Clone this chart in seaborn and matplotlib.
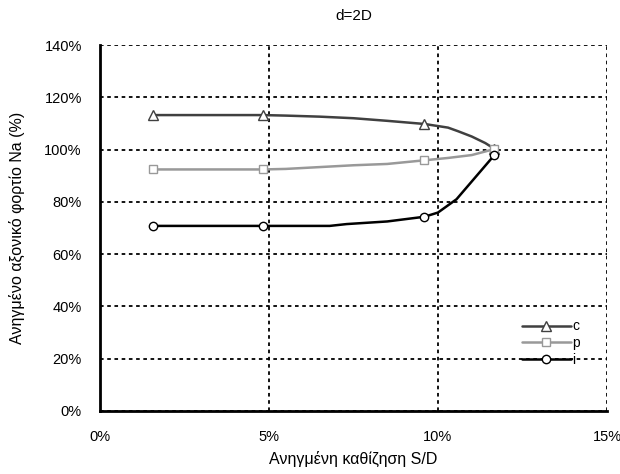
import numpy as np
import pandas as pd
import seaborn as sns
import matplotlib.pyplot as plt
from matplotlib.ticker import PercentFormatter

# data (S/D %, Na %)
x_c = [1.57, 4.82, 5.5, 6.5, 7.5, 8.5, 9.6, 10.3, 10.6, 11.0, 11.4, 11.67]
y_c = [113.2, 113.2, 113.0, 112.6, 112.0, 111.0, 109.8, 108.4, 107.0, 105.0, 102.5, 100.3]
x_p = [1.57, 4.82, 5.5, 6.5, 7.5, 8.5, 9.6, 10.3, 11.0, 11.67]
y_p = [92.4, 92.4, 92.6, 93.3, 94.0, 94.5, 95.9, 96.8, 97.9, 100.2]
x_i = [1.57, 4.82, 6.8, 7.3, 8.5, 9.6, 10.0, 10.55, 11.67]
y_i = [70.8, 70.8, 70.8, 71.5, 72.5, 74.3, 75.9, 81.0, 97.9]
mark_c = [0, 1, 6, 11]
mark_p = [0, 1, 6, 9]
mark_i = [0, 1, 5, 8]

sns.set_style("white")
plt.rcParams['font.family'] = ['Liberation Sans', 'DejaVu Sans']
plt.rcParams['text.color'] = 'black'
plt.rcParams['axes.labelcolor'] = 'black'
plt.rcParams['xtick.color'] = 'black'
plt.rcParams['ytick.color'] = 'black'

fig = plt.figure(figsize=(6.2, 4.74), dpi=100)
ax = fig.add_axes([0.161, 0.133, 0.818, 0.772])

sns.lineplot(x=x_c, y=y_c, ax=ax, sort=False, color='#404040', lw=1.8,
             marker='^', markevery=mark_c, markersize=7.5, markerfacecolor='white',
             markeredgecolor='#404040', markeredgewidth=1, label='c')
sns.lineplot(x=x_p, y=y_p, ax=ax, sort=False, color='#999999', lw=1.8,
             marker='s', markevery=mark_p, markersize=5.5, markerfacecolor='white',
             markeredgecolor='#999999', markeredgewidth=1, label='p')
sns.lineplot(x=x_i, y=y_i, ax=ax, sort=False, color='black', lw=1.8,
             marker='o', markevery=mark_i, markersize=6, markerfacecolor='white',
             markeredgecolor='black', markeredgewidth=1, label='i')

ax.set_xlim(0, 15)
ax.set_ylim(0, 140)
ax.set_xticks([0, 5, 10, 15])
ax.set_yticks(np.arange(0, 141, 20))
ax.xaxis.set_major_formatter(PercentFormatter(decimals=0))
ax.yaxis.set_major_formatter(PercentFormatter(decimals=0))
ax.grid(True, color='black', linestyle=(0, (2, 2)), linewidth=1.3)
ax.set_axisbelow(True)
for s in ['top', 'right']:
    ax.spines[s].set_visible(False)
for s in ['left', 'bottom']:
    ax.spines[s].set_color('black')
    ax.spines[s].set_linewidth(2)
ax.tick_params(direction='out', length=4, width=2, color='black', labelsize=10.5, pad=9)
ax.tick_params(axis='x', pad=10)

ax.set_title('d=2D', fontsize=11, pad=18)
ax.set_xlabel('Ανηγμένη καθίζηση S/D', fontsize=11.5, labelpad=5)
ax.set_ylabel('Ανηγμένο αξονικό φορτίο Na (%)', fontsize=11.5, labelpad=14)

ax.legend(loc='lower right', bbox_to_anchor=(0.957, 0.105), frameon=False, fontsize=10,
          handlelength=3.5, handletextpad=0.1, labelspacing=0.2, borderaxespad=0)

fig.savefig('out.png', dpi=100)
